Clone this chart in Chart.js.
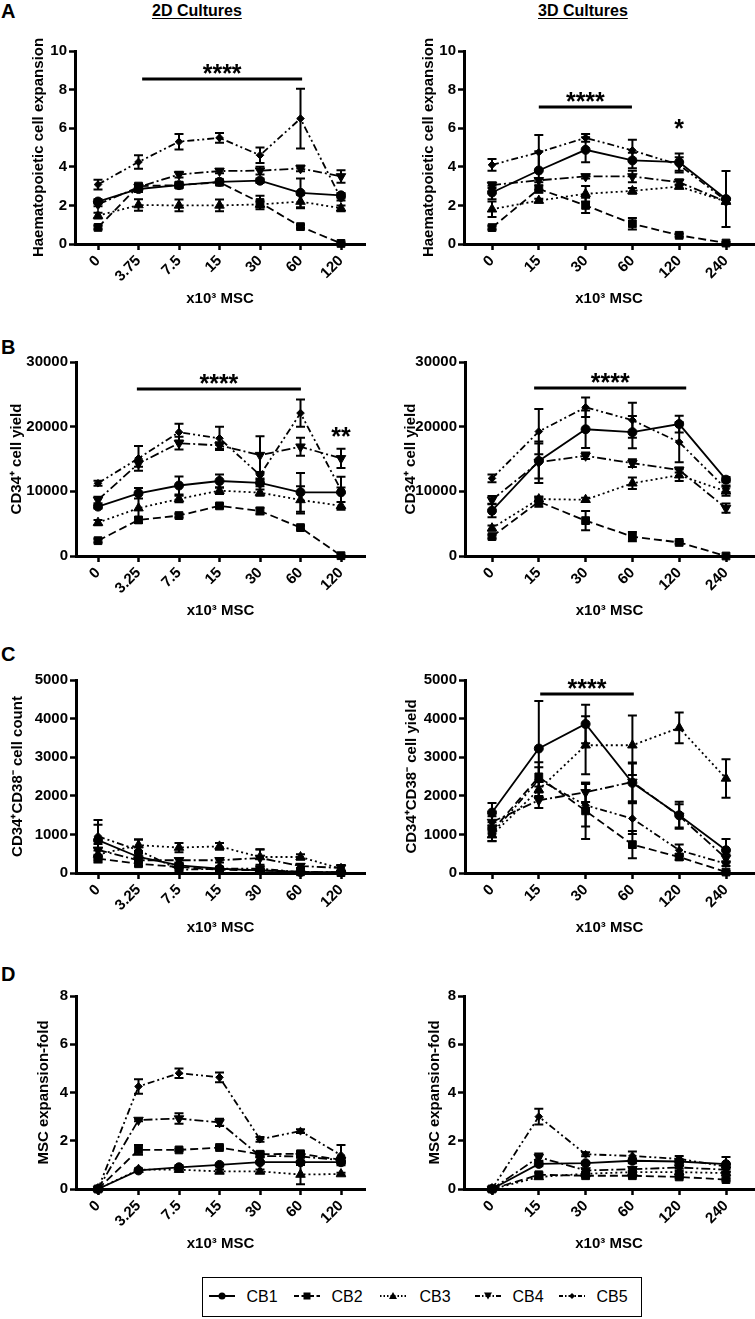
<!DOCTYPE html>
<html><head><meta charset="utf-8">
<script src="https://cdn.jsdelivr.net/npm/chart.js@4.4.1/dist/chart.umd.min.js"></script>
<style>
html,body{margin:0;padding:0;background:#fff;}
body{width:755px;height:1319px;position:relative;overflow:hidden;font-family:'Liberation Sans',Arial,sans-serif;color:#000;}
canvas{position:absolute;}
.letter{position:absolute;font-weight:bold;font-size:20px;line-height:20px;}
.coltitle{position:absolute;font-weight:bold;font-size:16px;line-height:16px;text-decoration:underline;text-underline-offset:2px;white-space:nowrap;}
#legend{position:absolute;left:202px;top:1277px;width:438px;height:38px;border:1.5px solid #000;}
.li{position:absolute;font-size:16px;line-height:18px;white-space:nowrap;}
.ls{position:absolute;}
</style></head><body>

<div class="letter" style="left:1px;top:1px;">A</div>
<div class="letter" style="left:1px;top:337px;">B</div>
<div class="letter" style="left:1px;top:644px;">C</div>
<div class="letter" style="left:1px;top:964px;">D</div>
<div class="coltitle" id="t2d" style="top:3px;">2D Cultures</div>
<div class="coltitle" id="t3d" style="top:3px;">3D Cultures</div>

<canvas id="a2d"></canvas><canvas id="a3d"></canvas>
<canvas id="b2d"></canvas><canvas id="b3d"></canvas>
<canvas id="c2d"></canvas><canvas id="c3d"></canvas>
<canvas id="d2d"></canvas><canvas id="d3d"></canvas>

<div id="legend"></div>

<script>
// ---------------- DATA ----------------
const seriesNames = ['CB1','CB2','CB3','CB4','CB5'];
const xLabelsA2D = ['0','3.75','7.5','15','30','60','120'];
const xLabels2D  = ['0','3.25','7.5','15','30','60','120'];
const xLabels3D  = ['0','15','30','60','120','240'];

// Panel A – haematopoietic cell expansion
const a2d_CB1 = [2.2, 2.85, 3.05, 3.22, 3.28, 2.65, 2.52];
const a2d_CB2 = [0.86, 3.0, 3.05, 3.2, 2.15, 0.9, 0.03];
const a2d_CB3 = [1.47, 2.02, 2.0, 2.0, 2.05, 2.2, 1.85];
const a2d_CB4 = [2.05, 2.95, 3.6, 3.78, 3.8, 3.92, 3.5];
const a2d_CB5 = [3.08, 4.25, 5.3, 5.5, 4.6, 6.5, 2.35];
const a2d_CB1_err = [0.12, 0.15, 0.15, 0.1, 0.12, 0.75, 0.12];
const a2d_CB2_err = [0.1, 0.1, 0.1, 0.1, 0.35, 0.08, 0.05];
const a2d_CB3_err = [0.15, 0.3, 0.3, 0.3, 0.15, 0.35, 0.15];
const a2d_CB4_err = [0.1, 0.15, 0.15, 0.12, 0.2, 0.15, 0.32];
const a2d_CB5_err = [0.25, 0.35, 0.4, 0.25, 0.4, 1.55, 0.1];

const a3d_CB1 = [2.67, 3.81, 4.88, 4.33, 4.24, 2.33];
const a3d_CB2 = [0.85, 2.85, 2.0, 1.05, 0.45, 0.05];
const a3d_CB3 = [1.8, 2.25, 2.6, 2.75, 2.98, 2.2];
const a3d_CB4 = [3.05, 3.3, 3.5, 3.5, 3.2, 2.2];
const a3d_CB5 = [4.1, 4.75, 5.5, 4.85, 4.1, 2.25];
const a3d_CB1_err = [0.35, 1.0, 0.65, 0.4, 0.45, 1.45];
const a3d_CB2_err = [0.1, 0.2, 0.4, 0.3, 0.08, 0.05];
const a3d_CB3_err = [0.4, 0.1, 0.4, 0.15, 0.1, 0.1];
const a3d_CB4_err = [0.15, 0.1, 0.1, 0.3, 0.15, 0.1];
const a3d_CB5_err = [0.3, 0.9, 0.2, 0.55, 0.4, 0.15];

// Panel B – CD34+ cell yield
const b2d_CB1 = [7640, 9700, 10900, 11600, 11300, 9850, 9850];
const b2d_CB2 = [2370, 5580, 6250, 7750, 6970, 4390, 50];
const b2d_CB3 = [5160, 7400, 8830, 10100, 9800, 8670, 7750];
const b2d_CB4 = [8670, 14300, 17450, 17100, 15600, 16900, 15100];
const b2d_CB5 = [11250, 15100, 19150, 18200, 12500, 22100, 10200];
const b2d_CB1_err = [300, 800, 1400, 1000, 500, 3000, 2400];
const b2d_CB2_err = [300, 400, 300, 300, 500, 300, 50];
const b2d_CB3_err = [400, 2300, 500, 500, 500, 2100, 600];
const b2d_CB4_err = [500, 500, 1000, 500, 2900, 1400, 1500];
const b2d_CB5_err = [400, 1900, 1300, 1800, 500, 2100, 400];

const b3d_CB1 = [7000, 14700, 19600, 19150, 20400, 11800];
const b3d_CB2 = [3000, 8400, 5470, 3000, 2100, 0];
const b3d_CB3 = [4300, 8800, 8700, 11250, 12500, 10000];
const b3d_CB4 = [8670, 14500, 15500, 14350, 13300, 7400];
const b3d_CB5 = [12000, 19250, 23000, 21000, 17600, 10400];
const b3d_CB1_err = [1000, 2700, 2900, 2500, 1300, 400];
const b3d_CB2_err = [300, 800, 1500, 700, 200, 50];
const b3d_CB3_err = [400, 300, 300, 900, 900, 700];
const b3d_CB4_err = [600, 3200, 500, 600, 400, 700];
const b3d_CB5_err = [600, 3500, 1500, 2700, 3100, 500];

// Panel C – CD34+CD38- cells
const c2d_CB1 = [850, 415, 200, 110, 70, 25, 20];
const c2d_CB2 = [370, 240, 155, 85, 70, 30, 10];
const c2d_CB3 = [480, 720, 660, 690, 415, 415, 110];
const c2d_CB4 = [600, 330, 330, 330, 390, 180, 130];
const c2d_CB5 = [950, 590, 85, 110, 110, 25, 20];
const c2d_CB1_err = [520, 100, 50, 30, 30, 10, 10];
const c2d_CB2_err = [100, 60, 40, 30, 30, 10, 10];
const c2d_CB3_err = [100, 150, 120, 90, 200, 70, 100];
const c2d_CB4_err = [150, 60, 60, 60, 220, 50, 80];
const c2d_CB5_err = [300, 280, 40, 40, 60, 10, 10];

const c3d_CB1 = [1565, 3225, 3860, 2335, 1495, 590];
const c3d_CB2 = [1090, 2490, 1610, 735, 415, 25];
const c3d_CB3 = [980, 2160, 3310, 3310, 3760, 2450];
const c3d_CB4 = [1320, 1885, 2090, 2360, 1480, 380];
const c3d_CB5 = [1020, 2420, 1755, 1410, 590, 240];
const c3d_CB1_err = [250, 1230, 500, 500, 350, 290];
const c3d_CB2_err = [150, 250, 730, 350, 80, 30];
const c3d_CB3_err = [150, 200, 750, 770, 400, 500];
const c3d_CB4_err = [150, 200, 250, 500, 300, 100];
const c3d_CB5_err = [200, 450, 550, 400, 150, 60];

// Panel D – MSC expansion-fold
const d2d_CB1 = [0, 0.77, 0.9, 1.0, 1.11, 1.11, 1.11];
const d2d_CB2 = [0, 1.62, 1.62, 1.72, 1.44, 1.46, 1.21];
const d2d_CB3 = [0, 0.8, 0.8, 0.73, 0.73, 0.6, 0.62];
const d2d_CB4 = [0, 2.86, 2.92, 2.76, 1.37, 1.35, 1.2];
const d2d_CB5 = [0, 4.25, 4.8, 4.63, 2.06, 2.4, 1.4];
const d2d_CB1_err = [0.02, 0.05, 0.08, 0.05, 0.05, 0.05, 0.05];
const d2d_CB2_err = [0.02, 0.2, 0.05, 0.05, 0.1, 0.08, 0.05];
const d2d_CB3_err = [0.02, 0.05, 0.05, 0.08, 0.08, 0.4, 0.05];
const d2d_CB4_err = [0.02, 0.05, 0.22, 0.15, 0.05, 0.05, 0.05];
const d2d_CB5_err = [0.02, 0.3, 0.2, 0.2, 0.1, 0.08, 0.42];

const d3d_CB1 = [0, 1.04, 1.07, 1.17, 1.14, 1.03];
const d3d_CB2 = [0, 0.59, 0.55, 0.55, 0.5, 0.39];
const d3d_CB3 = [0, 0.5, 0.63, 0.7, 0.7, 0.66];
const d3d_CB4 = [0, 1.32, 0.77, 0.82, 0.89, 0.8];
const d3d_CB5 = [0, 3.0, 1.44, 1.37, 1.25, 0.93];
const d3d_CB1_err = [0.02, 0.1, 0.05, 0.1, 0.08, 0.3];
const d3d_CB2_err = [0.02, 0.08, 0.05, 0.05, 0.05, 0.05];
const d3d_CB3_err = [0.02, 0.05, 0.05, 0.05, 0.05, 0.05];
const d3d_CB4_err = [0.02, 0.15, 0.05, 0.05, 0.05, 0.1];
const d3d_CB5_err = [0.02, 0.33, 0.08, 0.18, 0.12, 0.1];

// ---------------- STYLE ----------------
const FONT = "'Liberation Sans', Arial, sans-serif";
Chart.defaults.font.family = FONT;
Chart.defaults.color = '#000';

const marks = [
  {ps:'circle',   r:4.5, rot:0,   dash:[]},
  {ps:'rect',     r:5.5, rot:0,   dash:[8,4]},
  {ps:'triangle', r:5.5, rot:0,   dash:[2,3]},
  {ps:'triangle', r:5.5, rot:180, dash:[9,3,2,3]},
  {ps:'rectRot',  r:3.8, rot:0,   dash:[7,3,2,3,2,3]}
];

const errorBars = {
  id: 'errorBars',
  afterDatasetsDraw(chart) {
    const ctx = chart.ctx, xs = chart.scales.x, ys = chart.scales.y;
    ctx.save();
    ctx.strokeStyle = '#000'; ctx.lineWidth = 2; ctx.setLineDash([]);
    chart.data.datasets.forEach(ds => {
      if (!ds.errors) return;
      ds.data.forEach((p, i) => {
        const e = ds.errors[i];
        if (!e) return;
        const px = xs.getPixelForValue(p.x);
        const y1 = ys.getPixelForValue(p.y + e);
        const y2 = ys.getPixelForValue(Math.max(p.y - e, 0));
        ctx.beginPath();
        ctx.moveTo(px, y1); ctx.lineTo(px, y2);
        ctx.moveTo(px - 4.5, y1); ctx.lineTo(px + 4.5, y1);
        ctx.moveTo(px - 4.5, y2); ctx.lineTo(px + 4.5, y2);
        ctx.stroke();
      });
    });
    ctx.restore();
  }
};

const sigPlugin = {
  id: 'sig',
  afterDraw(chart, args, opts) {
    const ctx = chart.ctx, xs = chart.scales.x, ys = chart.scales.y;
    ctx.save();
    ctx.fillStyle = '#000'; ctx.strokeStyle = '#000'; ctx.setLineDash([]);
    ctx.font = 'bold 25px ' + FONT; ctx.textAlign = 'center'; ctx.textBaseline = 'alphabetic';
    (opts.bars || []).forEach(b => {
      const y = ys.getPixelForValue(b.y);
      const x1 = xs.getPixelForValue(b.from), x2 = xs.getPixelForValue(b.to);
      ctx.lineWidth = 3;
      ctx.beginPath(); ctx.moveTo(x1, y); ctx.lineTo(x2, y); ctx.stroke();
      ctx.fillText(b.text, (x1 + x2) / 2, y + 3);
    });
    (opts.stars || []).forEach(s => {
      ctx.fillText(s.text, xs.getPixelForValue(s.x), ys.getPixelForValue(s.y) + 15);
    });
    ctx.restore();
  }
};

const colLeft  = {cx:0,   cw:377, p0:98,  pN:341, r:365};
const colRight = {cx:377, cw:378, p0:492, pN:726, r:754};

function makePanel(id, col, row) {
  const N = row.labels.length - 1;
  const unit = (col.pN - col.p0) / N;
  const xMin = -(col.p0 - row.l) / unit;
  const xMax = N + (col.r - col.pN) / unit;
  const cy = row.t - 21, ch = (row.b + 66) - cy;
  const cv = document.getElementById(id);
  cv.width = col.cw; cv.height = ch;
  cv.style.left = col.cx + 'px'; cv.style.top = cy + 'px';
  cv.style.width = col.cw + 'px'; cv.style.height = ch + 'px';
  const yW = row.l - col.cx;
  const tickFont = {family: FONT, size: 15, weight: 'bold'};
  const datasets = row.series.map((vals, k) => ({
    label: seriesNames[k],
    data: vals.map((v, i) => ({x: i, y: v})),
    errors: row.errs[k],
    borderColor: '#000', backgroundColor: '#000', borderWidth: 1.8,
    borderDash: marks[k].dash,
    pointStyle: marks[k].ps, pointRadius: marks[k].r, pointRotation: marks[k].rot,
    pointBackgroundColor: '#000', pointBorderColor: '#000', pointBorderWidth: 1,
    tension: 0, fill: false, clip: false
  }));
  return new Chart(cv, {
    type: 'line',
    data: {datasets},
    options: {
      responsive: false, animation: false, events: [],
      layout: {autoPadding: false, padding: {left: 0, right: col.cx + col.cw - col.r, top: row.t - cy, bottom: 0}},
      plugins: {legend: {display: false}, tooltip: {enabled: false},
                sig: {bars: row.bars || [], stars: row.stars || []}},
      scales: {
        x: {
          type: 'linear', min: xMin, max: xMax,
          afterBuildTicks(s) { s.ticks = row.labels.map((_, i) => ({value: i})); },
          afterFit(s) { s.height = 66; },
          ticks: {autoSkip: false, maxRotation: 45, minRotation: 45, padding: 2,
                  color: '#000', font: {family: FONT, size: 15, weight: 'bold'},
                  callback: v => row.labels[v]},
          grid: {display: true, drawOnChartArea: false, drawTicks: true, tickLength: 6, tickWidth: 2.5, tickColor: '#000'},
          border: {display: true, color: '#000', width: 3},
          title: {display: true, text: 'x10³ MSC', color: '#000',
                  font: {family: FONT, size: 15, weight: 'bold'}, padding: {top: 0, bottom: 2}}
        },
        y: {
          type: 'linear', min: 0, max: row.yMax,
          afterFit(s) { s.width = yW; },
          ticks: {stepSize: row.yStep, padding: 2, color: '#000', font: tickFont, callback: v => String(v)},
          grid: {display: true, drawOnChartArea: false, drawTicks: true, tickLength: 6, tickWidth: 2.5, tickColor: '#000'},
          border: {display: true, color: '#000', width: 3},
          title: {display: true, text: row.yTitle, color: '#000',
                  font: {family: FONT, size: 15, weight: 'bold'},
                  padding: {top: row.titleC - col.cx - 9, bottom: 0}}
        }
      }
    },
    plugins: [errorBars, sigPlugin]
  });
}

makePanel('a2d', colLeft, {t:51, b:244, l:75, labels:xLabelsA2D, yMax:10, yStep:2,
  yTitle:'Haematopoietic cell expansion', titleC:38.5,
  series:[a2d_CB1,a2d_CB2,a2d_CB3,a2d_CB4,a2d_CB5],
  errs:[a2d_CB1_err,a2d_CB2_err,a2d_CB3_err,a2d_CB4_err,a2d_CB5_err],
  bars:[{from:1.09, to:5.04, y:8.55, text:'****'}]});
makePanel('a3d', colRight, {t:51, b:244, l:464, labels:xLabels3D, yMax:10, yStep:2,
  yTitle:'Haematopoietic cell expansion', titleC:428.5,
  series:[a3d_CB1,a3d_CB2,a3d_CB3,a3d_CB4,a3d_CB5],
  errs:[a3d_CB1_err,a3d_CB2_err,a3d_CB3_err,a3d_CB4_err,a3d_CB5_err],
  bars:[{from:1.0, to:2.99, y:7.1, text:'****'}],
  stars:[{x:4, y:6.32, text:'*'}]});
makePanel('b2d', colLeft, {t:362, b:556, l:76, labels:xLabels2D, yMax:30000, yStep:10000,
  yTitle:'CD34⁺ cell yield', titleC:17,
  series:[b2d_CB1,b2d_CB2,b2d_CB3,b2d_CB4,b2d_CB5],
  errs:[b2d_CB1_err,b2d_CB2_err,b2d_CB3_err,b2d_CB4_err,b2d_CB5_err],
  bars:[{from:0.96, to:5.01, y:25825, text:'****'}],
  stars:[{x:6, y:19485, text:'**'}]});
makePanel('b3d', colRight, {t:362, b:556, l:465, labels:xLabels3D, yMax:30000, yStep:10000,
  yTitle:'CD34⁺ cell yield', titleC:410.5,
  series:[b3d_CB1,b3d_CB2,b3d_CB3,b3d_CB4,b3d_CB5],
  errs:[b3d_CB1_err,b3d_CB2_err,b3d_CB3_err,b3d_CB4_err,b3d_CB5_err],
  bars:[{from:0.9, to:4.15, y:25979, text:'****'}]});
makePanel('c2d', colLeft, {t:680, b:873, l:76, labels:xLabels2D, yMax:5000, yStep:1000,
  yTitle:'CD34⁺CD38⁻ cell count', titleC:17.5,
  series:[c2d_CB1,c2d_CB2,c2d_CB3,c2d_CB4,c2d_CB5],
  errs:[c2d_CB1_err,c2d_CB2_err,c2d_CB3_err,c2d_CB4_err,c2d_CB5_err]});
makePanel('c3d', colRight, {t:680, b:873, l:465, labels:xLabels3D, yMax:5000, yStep:1000,
  yTitle:'CD34⁺CD38⁻ cell yield', titleC:412,
  series:[c3d_CB1,c3d_CB2,c3d_CB3,c3d_CB4,c3d_CB5],
  errs:[c3d_CB1_err,c3d_CB2_err,c3d_CB3_err,c3d_CB4_err,c3d_CB5_err],
  bars:[{from:1.03, to:3.03, y:4637, text:'****'}]});
makePanel('d2d', colLeft, {t:996, b:1189, l:76, labels:xLabels2D, yMax:8, yStep:2,
  yTitle:'MSC expansion-fold', titleC:44,
  series:[d2d_CB1,d2d_CB2,d2d_CB3,d2d_CB4,d2d_CB5],
  errs:[d2d_CB1_err,d2d_CB2_err,d2d_CB3_err,d2d_CB4_err,d2d_CB5_err]});
makePanel('d3d', colRight, {t:996, b:1189, l:464, labels:xLabels3D, yMax:8, yStep:2,
  yTitle:'MSC expansion-fold', titleC:435,
  series:[d3d_CB1,d3d_CB2,d3d_CB3,d3d_CB4,d3d_CB5],
  errs:[d3d_CB1_err,d3d_CB2_err,d3d_CB3_err,d3d_CB4_err,d3d_CB5_err]});

// column titles centred
function centre(id, cx) {
  const el = document.getElementById(id);
  el.style.left = (cx - el.offsetWidth / 2) + 'px';
}
centre('t2d', 197); centre('t3d', 583);

// ---------------- LEGEND ----------------
const legend = document.getElementById('legend');
const legendSym = [222, 307, 393, 488, 572];
const legendTxt = [247, 332, 420, 513, 597];
const svgDash = ['', '5,2.5', '1.5,2', '5,2,1.5,2', '4,2,1.5,2'];
const LX = 202 + 1.5, LY = 1277 + 1.5;
seriesNames.forEach((name, k) => {
  const w = 26, h = 12;
  const ns = 'http://www.w3.org/2000/svg';
  const svg = document.createElementNS(ns, 'svg');
  svg.setAttribute('width', w); svg.setAttribute('height', h);
  svg.setAttribute('class', 'ls');
  svg.style.left = (legendSym[k] - w / 2 - LX) + 'px';
  svg.style.top = (1296 - h / 2 - LY) + 'px';
  const ln = document.createElementNS(ns, 'line');
  ln.setAttribute('x1', 0); ln.setAttribute('x2', w); ln.setAttribute('y1', 6); ln.setAttribute('y2', 6);
  ln.setAttribute('stroke', '#000'); ln.setAttribute('stroke-width', 2);
  if (svgDash[k]) ln.setAttribute('stroke-dasharray', svgDash[k]);
  svg.appendChild(ln);
  let m;
  const c = w / 2;
  if (k === 0) { m = document.createElementNS(ns, 'circle'); m.setAttribute('cx', c); m.setAttribute('cy', 6); m.setAttribute('r', 3.5); }
  else if (k === 1) { m = document.createElementNS(ns, 'rect'); m.setAttribute('x', c - 3.5); m.setAttribute('y', 2.5); m.setAttribute('width', 7); m.setAttribute('height', 7); }
  else if (k === 2) { m = document.createElementNS(ns, 'polygon'); m.setAttribute('points', `${c},2 ${c+4},9 ${c-4},9`); }
  else if (k === 3) { m = document.createElementNS(ns, 'polygon'); m.setAttribute('points', `${c-4},2.5 ${c+4},2.5 ${c},9.5`); }
  else { m = document.createElementNS(ns, 'polygon'); m.setAttribute('points', `${c},3 ${c+3},6 ${c},9 ${c-3},6`); }
  m.setAttribute('fill', '#000');
  svg.appendChild(m);
  legend.appendChild(svg);
  const t = document.createElement('div');
  t.className = 'li';
  t.textContent = name;
  t.style.left = (legendTxt[k] - LX) + 'px';
  t.style.top = (1288 - LY) + 'px';
  legend.appendChild(t);
});
</script>
</body></html>
